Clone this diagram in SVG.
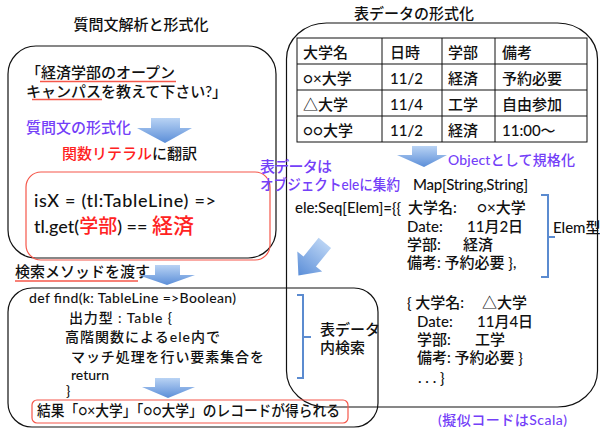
<svg xmlns="http://www.w3.org/2000/svg" width="600" height="429" viewBox="0 0 600 429">
<defs>
<linearGradient id="bg" x1="0" y1="0" x2="0" y2="1">
<stop offset="0" stop-color="#b9d3f4"/>
<stop offset="1" stop-color="#5b8ed8"/>
</linearGradient>
<style>
text{font-family:Lato,"Noto Sans CJK JP",sans-serif;fill:#111;font-weight:500;}
.f15{font-size:15px;}
.f14{font-size:14px;}
.pu{fill:#7440f8;}
.rd{fill:#f22;}
.box{fill:none;stroke:#111;stroke-width:1.2;}
.rbox{fill:none;stroke:#f5574a;stroke-width:1.2;}
.arr{fill:url(#bg);}
.brk{fill:none;stroke:#5b8bd0;stroke-width:2;}
.ul{stroke:#f5574a;stroke-width:1.5;}
.tbl{stroke:#111;stroke-width:1;fill:none;}
</style>
</defs>
<rect width="600" height="429" fill="#fff"/>

<g id="title-left"><text class="f15" x="141" y="30" text-anchor="middle">質問文解析と形式化</text></g>
<g id="title-right"><text class="f15" x="414" y="19" text-anchor="middle">表データの形式化</text></g>

<g id="left-box"><rect class="box" x="8" y="46" width="268" height="212" rx="28"/></g>
<g id="right-box"><rect class="box" x="286.5" y="23" width="311" height="384" rx="40" ry="36"/></g>
<g id="search-box"><rect class="box" x="8" y="288" width="370" height="139" rx="24"/></g>

<g id="question">
<text class="f15" x="26" y="78">「経済学部のオープン</text>
<text class="f15" x="26" y="97">キャンパスを教えて下さい?」</text>
<line class="ul" x1="40" y1="81.5" x2="176" y2="81.5"/>
<line class="ul" x1="32" y1="99.5" x2="102" y2="99.5"/>
</g>

<g id="formalize-label"><text class="f15 pu" x="26" y="133">質問文の形式化</text></g>
<g id="literal-label"><text class="f15" x="62" y="159"><tspan class="rd">関数リテラル</tspan>に翻訳</text></g>

<g id="literal-box">
<rect class="rbox" x="26" y="172" width="244" height="88" rx="15"/>
<text x="34" y="207" style="font-size:18px" textLength="182">isX = (tl:TableLine) =&gt;</text>
<text x="34" y="233" style="font-size:18px">tl.get(<tspan class="rd" style="font-size:19px">学部</tspan>) == <tspan class="rd" style="font-size:21px">経済</tspan></text>
</g>

<g id="pass-label">
<text class="f15" x="15" y="277">検索メソッドを渡す</text>
<line class="ul" x1="15" y1="281" x2="138" y2="281"/>
</g>

<g id="find-code">
<text class="f14" x="29" y="303" textLength="207">def find(k: TableLine =&gt;Boolean)</text>
<text class="f14" x="69" y="323" textLength="103">出力型 : Table {</text>
<text class="f14" x="65" y="342" textLength="155">高階関数によるele内で</text>
<text class="f14" x="71" y="362" textLength="193">マッチ処理を行い要素集合を</text>
<text class="f14" x="71" y="380">return</text>
<text class="f14" x="66" y="396">}</text>
</g>

<g id="result">
<rect class="rbox" x="32" y="400" width="316" height="23" rx="5"/>
<text class="f15" x="37" y="416" textLength="303" lengthAdjust="spacingAndGlyphs">結果「○×大学」「○○大学」のレコードが得られる</text>
</g>

<g id="table">
<rect x="297" y="38" width="290" height="104" fill="#fff" stroke="#111"/>
<path class="tbl" d="M297,64H587M297,90H587M297,116H587M382,38V142M442,38V142M495,38V142"/>
<text class="f15" x="303" y="58">大学名</text><text class="f15" x="390" y="58">日時</text><text class="f15" x="448" y="58">学部</text><text class="f15" x="502" y="58">備考</text>
<text class="f15" x="303" y="84">○×大学</text><text class="f15" x="390" y="84">11/2</text><text class="f15" x="448" y="84">経済</text><text class="f15" x="502" y="84">予約必要</text>
<text class="f15" x="303" y="110">△大学</text><text class="f15" x="390" y="110">11/4</text><text class="f15" x="448" y="110">工学</text><text class="f15" x="502" y="110">自由参加</text>
<text class="f15" x="303" y="136">○○大学</text><text class="f15" x="390" y="136">11/2</text><text class="f15" x="448" y="136">経済</text><text class="f15" x="502" y="136">11:00～</text>
</g>

<g id="object-label"><text class="f14 pu" x="448" y="165" textLength="127">Objectとして規格化</text></g>
<g id="aggregate-label">
<text class="f15 pu" x="260" y="172" textLength="72">表データは</text>
<text class="f15 pu" x="260" y="190" textLength="140" lengthAdjust="spacingAndGlyphs">オブジェクトeleに集約</text>
</g>
<g id="map-label"><text class="f15" x="413" y="190" textLength="115">Map[String,String]</text></g>

<g id="elem1">
<text class="f15" x="295" y="213" textLength="106">ele:Seq[Elem]={{</text>
<text class="f15" x="408" y="213">大学名:</text><text class="f15" x="477" y="213">○×大学</text>
<text class="f15" x="407" y="232">Date:</text><text class="f15" x="467" y="232">11月2日</text>
<text class="f15" x="407" y="250">学部:</text><text class="f15" x="463" y="250">経済</text>
<text class="f15" x="407" y="268">備考: 予約必要 },</text>
</g>
<g id="elem-type"><text class="f15" x="553" y="233">Elem型</text></g>

<g id="elem2">
<text class="f15" x="407" y="308">{ 大学名:</text><text class="f15" x="482" y="308">△大学</text>
<text class="f15" x="417" y="327">Date:</text><text class="f15" x="477" y="327">11月4日</text>
<text class="f15" x="417" y="345">学部:</text><text class="f15" x="475" y="345">工学</text>
<text class="f15" x="417" y="363">備考: 予約必要 }</text>
<text class="f15" x="418" y="383">. . . }</text>
</g>

<g id="search-label">
<text class="f15" x="320" y="335">表データ</text>
<text class="f15" x="320" y="353">内検索</text>
</g>

<g id="note"><text class="f14 pu" x="438" y="425" textLength="129">(擬似コードはScala)</text></g>

<g id="connectors">
<polygon class="arr" points="151,118 180,118 180,128 192,128 165,143 137,128 151,128"/>
<polygon class="arr" points="155,265 180,265 180,275 195,275 167,285 138,275 155,275"/>
<polygon class="arr" points="155,378 180,378 180,387 195,387 168,398 142,387 155,387"/>
<polygon class="arr" points="412,146 437,146 437,155 447,155 424,167 397,155 412,155"/>
<polygon class="arr" transform="translate(311,260) rotate(39)" points="-8,-22 8,-22 8,2 16,2 0,20 -16,2 -8,2"/>
<path class="brk" d="M541,195H548V277H541M548,237H555"/>
<path class="brk" d="M297,295H303V378H297M303,337H311"/>
</g>
</svg>
